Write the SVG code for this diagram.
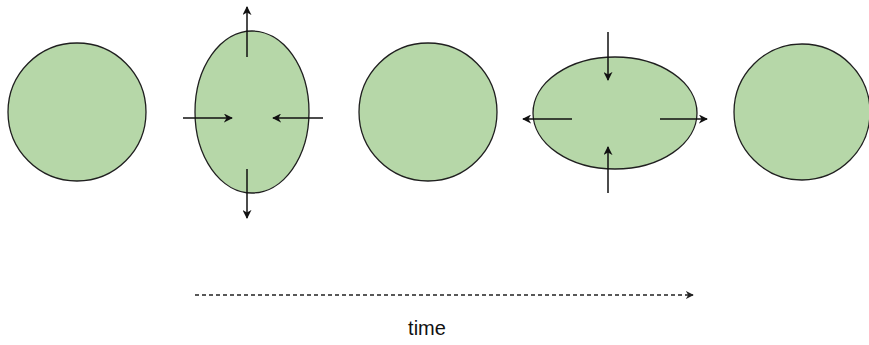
<svg xmlns="http://www.w3.org/2000/svg" width="869" height="345" viewBox="0 0 869 345">
<defs>
<style>
.shape{fill:#b6d7a8;stroke:#1f1f1f;stroke-width:1.3}
.arr{stroke:#111;stroke-width:1.5;fill:none;marker-end:url(#ah)}
.dash{stroke:#222;stroke-width:1.3;fill:none;stroke-dasharray:4 3;marker-end:url(#ah2)}
.lbl{font-family:"Liberation Sans",Arial,sans-serif;font-size:20px;fill:#111}
</style>
<marker id="ah" viewBox="0 0 10 10" refX="9" refY="5" markerWidth="9" markerHeight="9" markerUnits="userSpaceOnUse" orient="auto"><path d="M0,0 L10,5 L0,10 L3,5 Z" fill="#111"/></marker>
<marker id="ah2" viewBox="0 0 10 10" refX="9" refY="5" markerWidth="8" markerHeight="8" markerUnits="userSpaceOnUse" orient="auto"><path d="M0,0 L10,5 L0,10 L3,5 Z" fill="#222"/></marker>
</defs>
<g id="circle1"><circle class="shape" cx="77" cy="112" r="69"/></g>
<g id="ellipse2"><ellipse class="shape" cx="252" cy="112" rx="57" ry="81"/></g>
<g id="circle3"><circle class="shape" cx="428" cy="112" r="69"/></g>
<g id="ellipse4"><ellipse class="shape" cx="615" cy="113" rx="82" ry="56"/></g>
<g id="circle5"><circle class="shape" cx="802" cy="112" r="68"/></g>
<g id="connectors">
<line class="arr" x1="247" y1="57" x2="247" y2="7"/>
<line class="arr" x1="247" y1="169" x2="247" y2="218"/>
<line class="arr" x1="183" y1="118" x2="232" y2="118"/>
<line class="arr" x1="323" y1="118" x2="273" y2="118"/>
<line class="arr" x1="608" y1="32" x2="608" y2="80"/>
<line class="arr" x1="608" y1="193" x2="608" y2="147"/>
<line class="arr" x1="572" y1="119" x2="523" y2="119"/>
<line class="arr" x1="660" y1="119" x2="707" y2="119"/>
<line class="dash" x1="195" y1="295" x2="693" y2="295"/>
</g>
<text class="lbl" x="427" y="335" text-anchor="middle">time</text>
</svg>
